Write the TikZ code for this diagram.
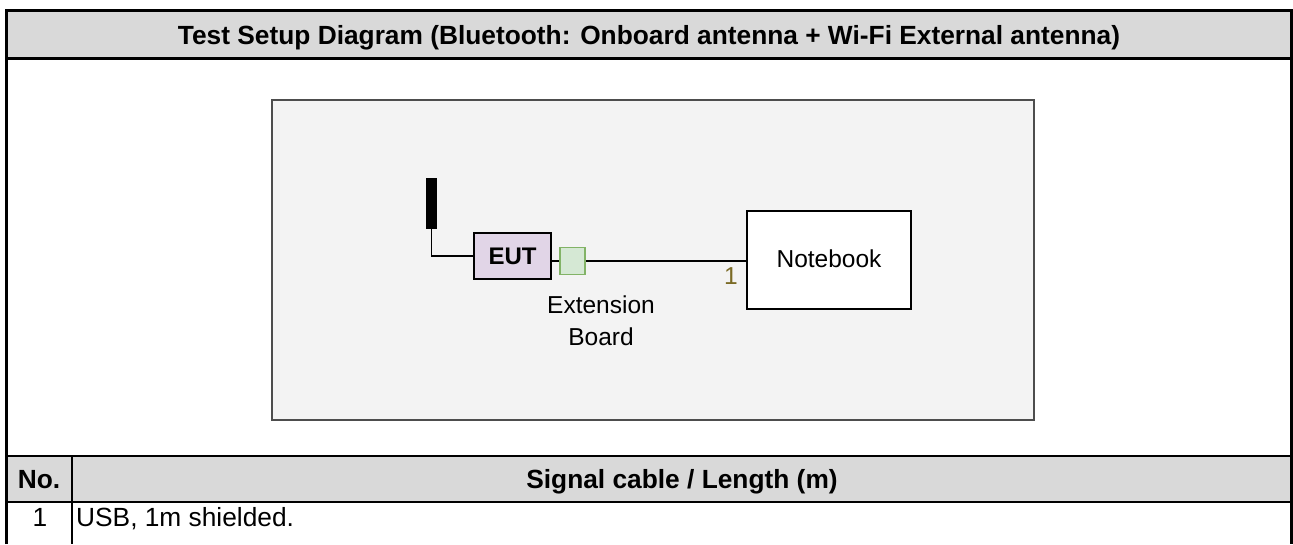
\documentclass[tikz,border=0pt]{standalone}
\usepackage{fontspec}
\setmainfont{Liberation Sans}
\definecolor{hdrgray}{HTML}{D9D9D9}
\definecolor{panelfill}{HTML}{F3F3F3}
\definecolor{panelline}{HTML}{4D4D4D}
\definecolor{eutfill}{HTML}{E1D5E7}
\definecolor{extfill}{HTML}{D5E8D4}
\definecolor{extline}{HTML}{82B366}
\definecolor{portcol}{HTML}{7A6A25}
\tikzset{
  tabline/.style={line width=2.6pt, black},
  frameline/.style={line width=3pt, black},
  thinline/.style={line width=1.5pt, black},
  hdrtext/.style={inner sep=0pt, anchor=base, font=\fontsize{26.3}{30}\selectfont\bfseries},
  celltext/.style={inner sep=0pt, anchor=base, font=\fontsize{26.3}{30}\selectfont},
  dgtext/.style={inner sep=0pt, font=\fontsize{24.5}{32}\selectfont},
  box/.style={draw=black, line width=1.6pt, inner sep=0pt},
  wire/.style={draw=black, line width=1.6pt},
}
\begin{document}
\begin{tikzpicture}[x=1pt, y=-1pt]
\useasboundingbox (0,0) rectangle (1293,544);
% header fills
\fill[hdrgray] (6.5,10.5) rectangle (1291.5,58.5);
\fill[hdrgray] (6.5,456) rectangle (1291.5,502);
% diagram panel
\node[draw=panelline, fill=panelfill, line width=2pt, minimum width=762pt, minimum height=320pt, inner sep=0pt] (panel) at (653,260) {};
% table lines
\draw[tabline] (6.5,58.5) -- (1291.5,58.5);
\draw[tabline] (6.5,456) -- (1291.5,456);
\draw[tabline] (6.5,502) -- (1291.5,502);
\draw[thinline] (72,456) -- (72,544);
\draw[frameline] (6.5,544) -- (6.5,10.5) -- (1291.5,10.5) -- (1291.5,544);
% texts of table
\node[hdrtext] (title) at (649,44.5) {Test Setup Diagram (Bluetooth: Onboard antenna + Wi-Fi External antenna)};
\node[hdrtext] (nohdr) at (39,488) {No.};
\node[hdrtext] (sighdr) at (682,488) {Signal cable / Length (m)};
\node[celltext] (no1) at (40,526) {1};
\node[celltext, anchor=base west] (cable1) at (76,526) {USB, 1m shielded.};
% diagram
\node[fill=black, draw=black, line width=0.8pt, minimum width=10pt, minimum height=50pt, inner sep=0pt] (ant) at (431.5,203) {};
\node[box, fill=eutfill, minimum width=77pt, minimum height=46pt] (eut) at (512.5,256) {};
\node[dgtext, anchor=base, font=\fontsize{24}{30}\selectfont\bfseries] (euttext) at (512.5,264) {EUT};
\node[draw=extline, fill=extfill, line width=1.6pt, minimum width=25pt, minimum height=27pt, inner sep=0pt] (ext) at (572.5,261) {};
\node[box, fill=white, minimum width=164pt, minimum height=98pt] (nb) at (829,260) {};
\node[dgtext, anchor=base] (nbtext) at (829,267) {Notebook};
\node[dgtext, anchor=base, text=portcol] (port) at (731,284) {1};
\node[dgtext, anchor=base] (extl1) at (601,313) {Extension};
\node[dgtext, anchor=base] (extl2) at (601,345) {Board};
\draw[wire] (ant.south) |- (eut.west);
\draw[wire] (eut.east |- ext.west) -- (ext.west);
\draw[wire] (ext.east) -- (ext.east -| nb.west);
\end{tikzpicture}
\end{document}
